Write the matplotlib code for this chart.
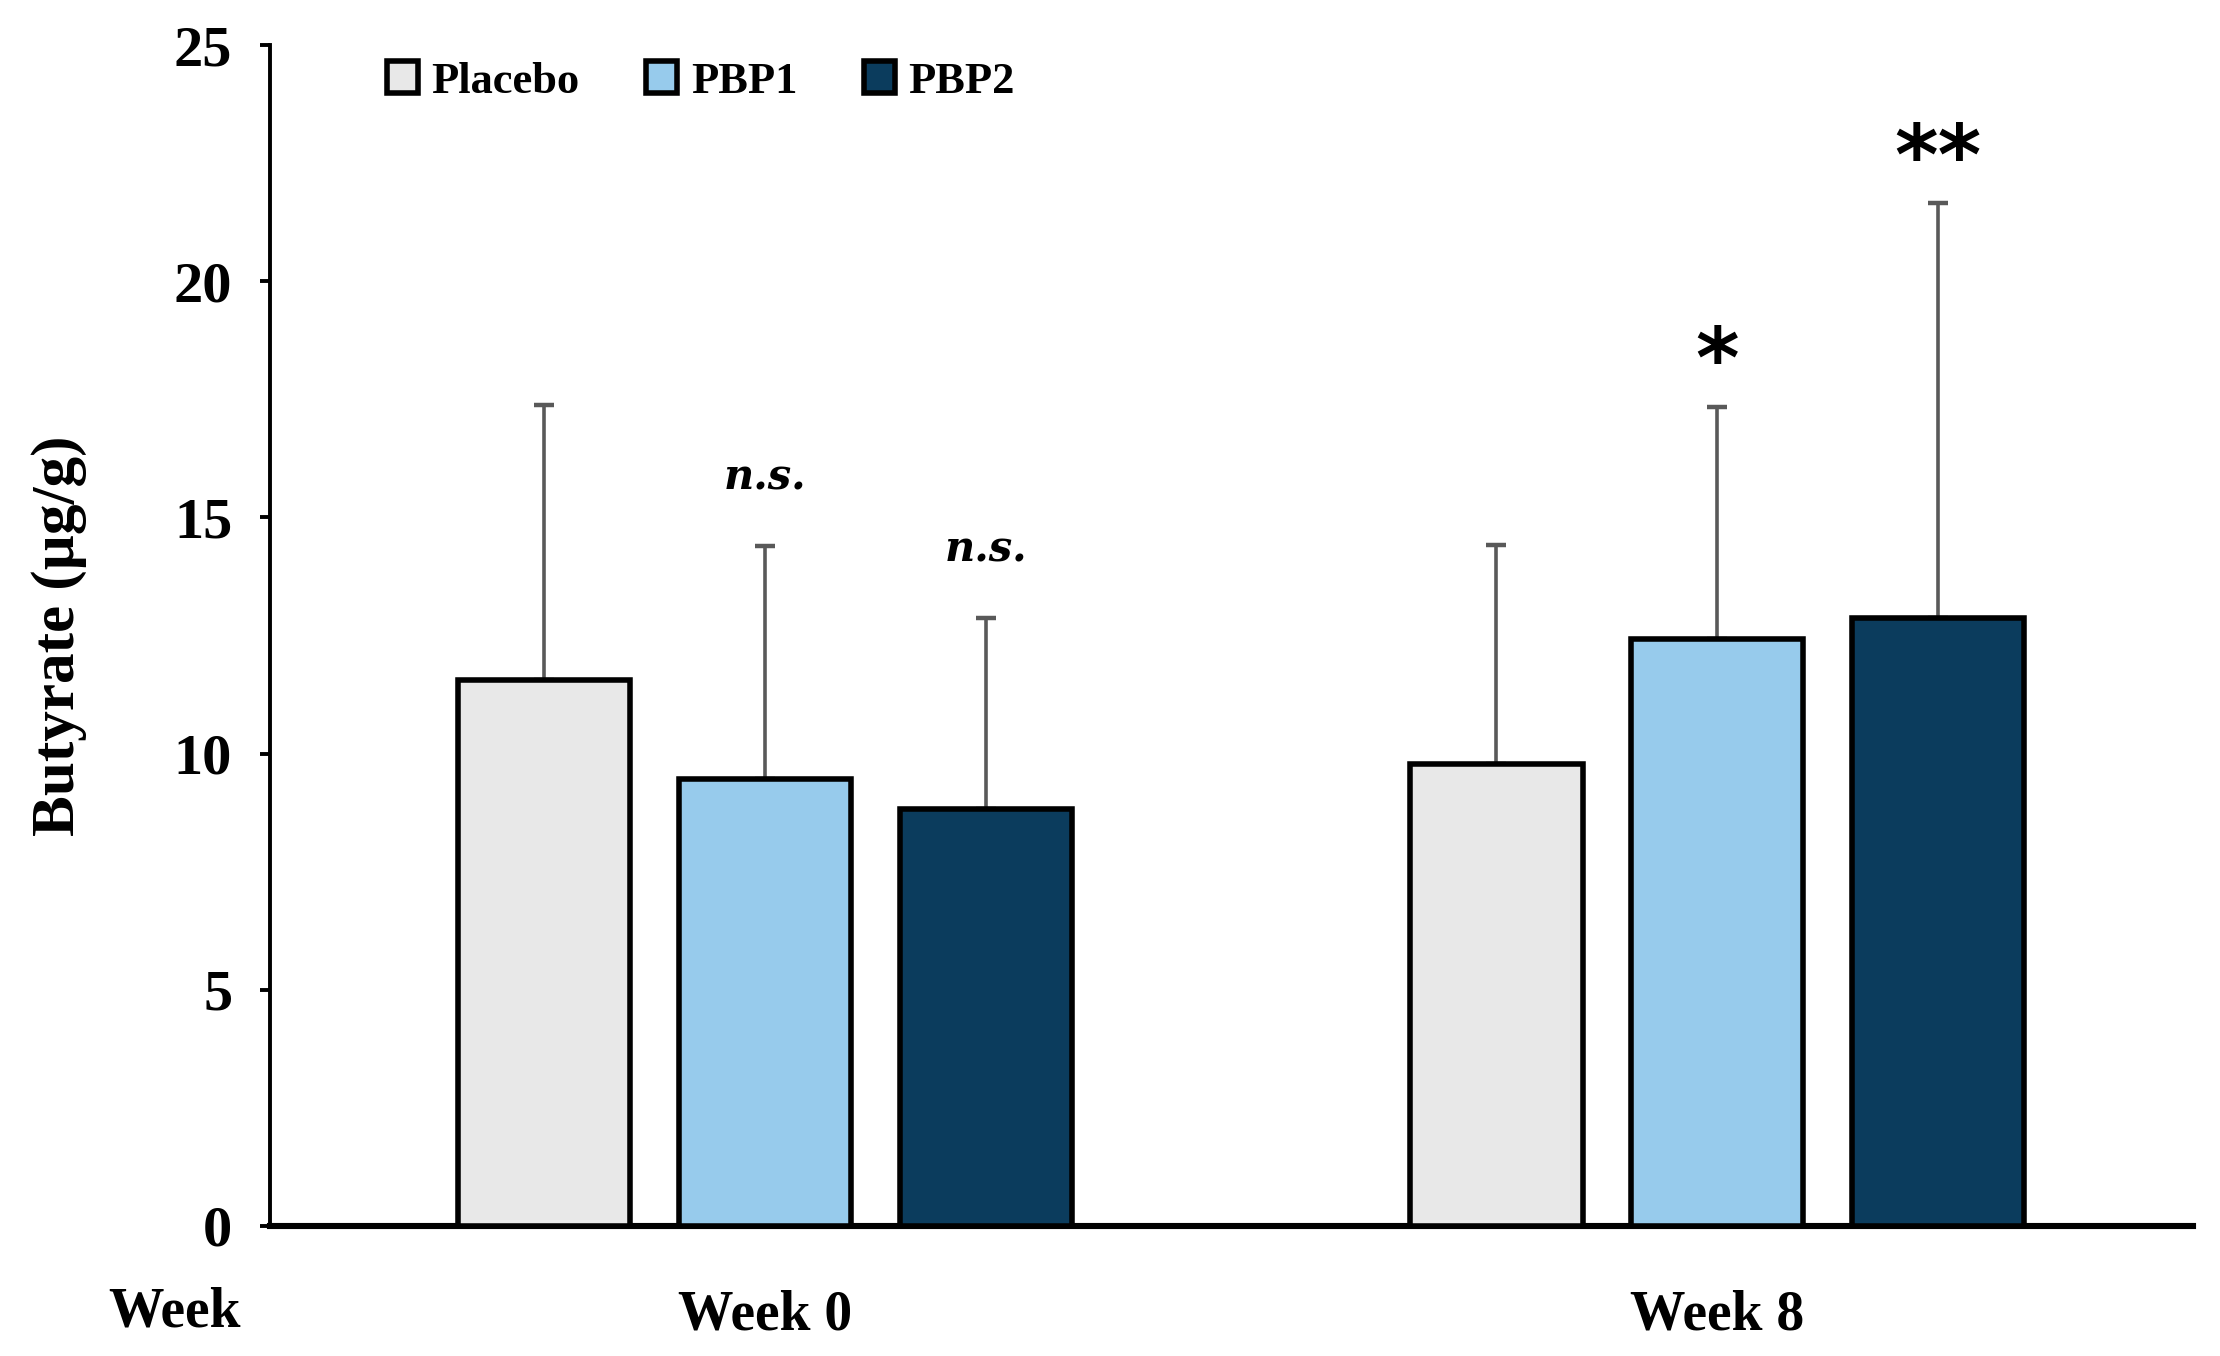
import matplotlib.pyplot as plt
import numpy as np

plt.rcParams['font.family'] = ['Liberation Serif', 'DejaVu Serif']

groups = ['Week 0', 'Week 8']
treatments = ['Placebo', 'PBP1', 'PBP2']
colors = ['#E8E8E8', '#97CBEC', '#0B3C5D']

# mean butyrate per treatment, [week 0, week 8]
placebo_mean = [11.55, 9.77]
pbp1_mean = [9.47, 12.42]
pbp2_mean = [8.83, 12.87]

# upper SD
placebo_sd = [5.82, 4.65]
pbp1_sd = [4.92, 4.92]
pbp2_sd = [4.05, 8.78]

# significance labels per treatment, [week 0, week 8]
placebo_sig = ['', '']
pbp1_sig = ['n.s.', '*']
pbp2_sig = ['n.s.', '**']

means = [placebo_mean, pbp1_mean, pbp2_mean]
sds = [placebo_sd, pbp1_sd, pbp2_sd]
sigs = [placebo_sig, pbp1_sig, pbp2_sig]

fig = plt.figure(figsize=(11.1, 6.78), dpi=200)
ax = fig.add_axes([0.1216, 0.0959, 0.8664, 0.8709])

x = np.arange(len(groups))
width = 0.181
offset = 0.232

for i, name in enumerate(treatments):
    pos = x + (i - 1) * offset
    ax.bar(pos, means[i], width, color=colors[i], edgecolor='black',
           linewidth=2.0, label=name, zorder=3)
    ax.errorbar(pos, means[i], yerr=[np.zeros(len(groups)), sds[i]],
                fmt='none', ecolor='#595959', elinewidth=1.3,
                capsize=3.6, capthick=1.6, zorder=2)
    for j in range(len(groups)):
        s = sigs[i][j]
        if not s:
            continue
        top = means[i][j] + sds[i][j]
        if s == 'n.s.':
            ax.text(pos[j], top + 1.0, s, ha='center', va='bottom',
                    fontsize=15, fontstyle='italic', fontweight='bold',
                    family='DejaVu Serif')
        else:
            ax.text(pos[j], top + 0.05, s, ha='center', va='bottom',
                    fontsize=30, fontweight='bold', family='DejaVu Sans')

ax.set_xlim(-0.52, 1.5)
ax.set_ylim(0, 25)
ax.set_yticks([0, 5, 10, 15, 20, 25])
ax.set_xticks(x)
ax.set_xticklabels(groups, fontsize=20, fontweight='bold')
ax.tick_params(axis='x', length=0, pad=23)
ax.tick_params(axis='y', labelsize=21, width=1.4, length=3.6, pad=10)
for lab in ax.get_yticklabels():
    lab.set_fontweight('bold')

ax.spines['top'].set_visible(False)
ax.spines['right'].set_visible(False)
ax.spines['left'].set_linewidth(1.4)
ax.spines['bottom'].set_linewidth(2.2)

ax.set_ylabel('Butyrate (µg/g)', fontsize=22, fontweight='bold')
ax.yaxis.set_label_coords(-0.095, 0.5)

ax.text(-0.62, -0.073, 'Week', transform=ax.get_xaxis_transform(),
        ha='center', va='center', fontsize=20, fontweight='bold')

ax.legend(loc='upper left', bbox_to_anchor=(0.04, 1.02), ncol=3,
          frameon=False, prop={'weight': 'bold', 'size': 16},
          handlelength=0.7, handleheight=0.7, handletextpad=0.3,
          columnspacing=1.5)

fig.savefig('out.png', dpi=200)
